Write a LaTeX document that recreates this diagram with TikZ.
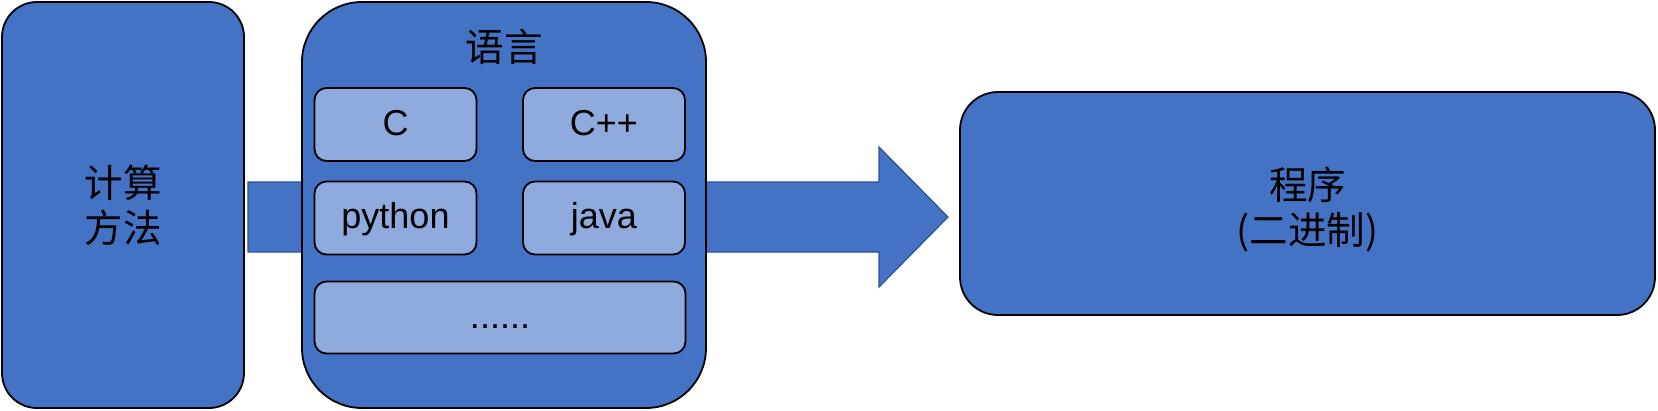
\documentclass[tikz,border=0pt]{standalone}
\usepackage{fontspec}
\setmainfont{Liberation Sans}
\newfontfamily\cjk{Noto Sans CJK SC}
\definecolor{boxblue}{HTML}{4472C4}
\definecolor{lightblue}{HTML}{8FAADC}
\definecolor{edgeblue}{HTML}{2F528F}
\begin{document}
\begin{tikzpicture}[x=1pt,y=-1pt,
  bigbox/.style={draw=black, line width=1.8pt, fill=boxblue, rounded corners=#1, inner sep=0pt},
  bigbox/.default=38pt,
  langbox/.style={draw=black, line width=1.8pt, fill=lightblue, rounded corners=12pt,
    minimum width=162pt, minimum height=73pt, inner sep=0pt,
    text height=27pt, text depth=6pt, font=\fontsize{36}{43}\selectfont},
  cjktext/.style={font=\cjk\fontsize{38.5}{45}\selectfont, align=center, inner sep=0pt},
  bigarrow/.style={fill=boxblue, draw=edgeblue, line width=1.2pt}]
\useasboundingbox (0,0) rectangle (1658,410);
% big arrow behind the boxes
\coordinate (a1) at (248,182);
\coordinate (a2) at (879,182);
\coordinate (a3) at (879,147);
\coordinate (tip) at (948,217);
\coordinate (a5) at (879,287);
\coordinate (a6) at (879,252);
\coordinate (a7) at (248,252);
\path[bigarrow] (a1) -- (a2) -- (a3) -- (tip) -- (a5) -- (a6) -- (a7) -- cycle;
% left box
\node[bigbox=35pt, minimum width=242pt, minimum height=406pt] (method) at (123,205) {};
\node[cjktext] (methodtext) at (123,205) {计算\\方法};
% language box
\node[bigbox=60pt, minimum width=404pt, minimum height=406pt] (lang) at (504,205) {};
\node[cjktext] (langtitle) at (504,47) {语言};
\node[langbox] (c) at (395.5,124.5) {C};
\node[langbox] (cpp) at (604,124.5) {C++};
\node[langbox] (py) at (395.5,218) {python};
\node[langbox] (java) at (604,218) {java};
\node[langbox, minimum width=371pt, minimum height=72pt] (more) at (500,317.5) {......};
% program box
\node[bigbox=38pt, minimum width=695pt, minimum height=223pt] (prog) at (1307.5,203.5) {};
\node[cjktext] (progtext) at (1307.5,210) {程序\\(二进制)};
\end{tikzpicture}
\end{document}
